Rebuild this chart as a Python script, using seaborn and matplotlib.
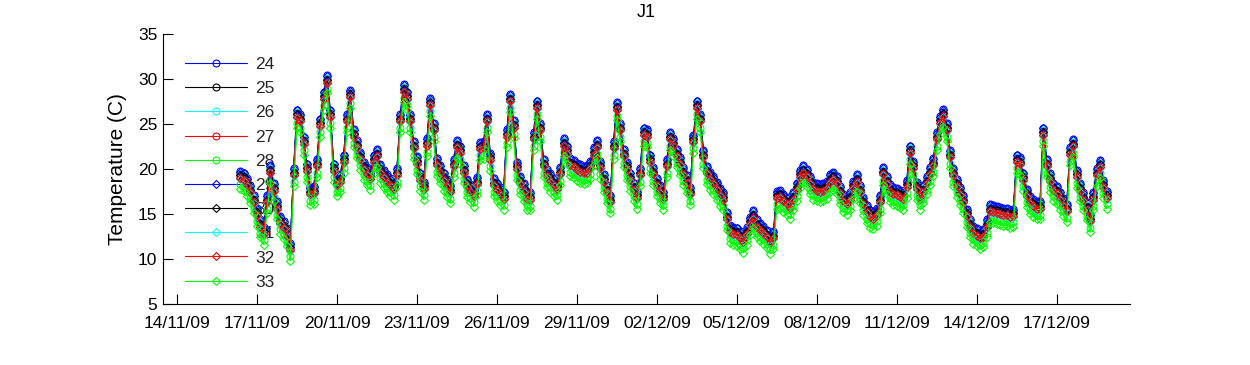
import numpy as np
import pandas as pd
import matplotlib
matplotlib.use("Agg")
import matplotlib.pyplot as plt
import matplotlib.dates as mdates
import seaborn as sns

# ---- data -----------------------------------------------------------------
start_time = "2009-11-16 09:00"
step = "3h"

# Mid-band temperature (C), one value every 3 hours
base_temp = [
    19.2, 19.0, 18.4, 17.6, 16.5,                      # 16/11
    15.1, 13.8, 13.0, 16.5, 19.8, 17.8, 15.8, 14.2,    # 17/11
    13.6, 12.8, 11.2, 19.5, 26.0, 25.5, 23.0, 20.0,    # 18/11
    17.4, 17.5, 20.5, 25.0, 28.0, 29.8, 26.0, 20.0,    # 19/11
    18.4, 18.8, 21.0, 25.5, 28.2, 23.8, 22.6, 21.3,    # 20/11
    20.2, 19.6, 19.1, 21.0, 21.6, 19.9, 19.3, 18.8,    # 21/11
    18.4, 18.0, 19.5, 25.5, 28.8, 28.0, 25.5, 22.5,    # 22/11
    20.8, 19.0, 18.0, 22.8, 27.3, 24.5, 20.6, 19.8,    # 23/11
    19.0, 18.3, 17.6, 20.5, 22.6, 22.0, 19.8, 18.3,    # 24/11
    17.7, 17.2, 18.5, 22.4, 22.5, 25.5, 21.2, 18.4,    # 25/11
    17.9, 17.4, 16.9, 23.8, 27.7, 24.8, 20.2, 18.6,    # 26/11
    17.8, 16.9, 16.8, 23.5, 27.0, 24.5, 20.5, 19.4,    # 27/11
    18.9, 18.4, 18.0, 19.6, 22.8, 22.0, 20.6, 20.4,    # 28/11
    20.1, 19.9, 19.7, 19.8, 20.3, 21.8, 22.6, 20.3,    # 29/11
    18.8, 17.6, 16.5, 22.5, 26.8, 24.5, 21.6, 20.2,    # 30/11
    19.0, 17.9, 17.0, 19.5, 24.0, 23.8, 21.0, 19.6,    # 01/12
    18.4, 17.6, 16.9, 20.5, 23.5, 22.8, 21.6, 20.7,    # 02/12
    19.6, 18.7, 17.4, 23.2, 27.0, 25.5, 21.5, 19.7,    # 03/12
    19.1, 18.6, 18.0, 17.3, 16.8, 14.6, 13.2, 13.0,    # 04/12
    12.9, 12.5, 12.1, 13.0, 14.1, 14.8, 13.8, 13.4,    # 05/12
    13.1, 12.6, 12.0, 12.5, 17.0, 17.1, 16.6, 16.3,    # 06/12
    15.9, 16.8, 17.9, 19.3, 19.8, 19.4, 18.6, 18.0,    # 07/12
    17.8, 17.7, 17.8, 18.1, 18.8, 19.1, 18.6, 17.5,    # 08/12
    16.6, 16.3, 16.8, 18.1, 18.8, 17.6, 16.3, 15.4,    # 09/12
    14.9, 14.7, 15.1, 16.5, 19.6, 18.6, 17.7, 17.4,    # 10/12
    17.3, 17.1, 16.9, 18.2, 22.0, 20.3, 18.0, 16.9,    # 11/12
    17.6, 18.6, 19.6, 20.6, 23.5, 25.3, 26.1, 24.5,    # 12/12
    21.5, 19.5, 18.3, 17.4, 16.5, 15.0, 13.8, 13.1,    # 13/12
    12.8, 12.5, 12.7, 13.8, 15.5, 15.4, 15.3, 15.2,    # 14/12
    15.1, 15.1, 14.9, 15.0, 21.0, 20.7, 19.0, 17.2,    # 15/12
    16.4, 16.1, 15.8, 15.8, 24.0, 20.5, 18.9, 17.9,    # 16/12
    17.5, 16.9, 16.2, 15.5, 21.8, 22.7, 19.3, 17.8,    # 17/12
    16.8, 15.7, 14.4, 16.8, 19.5, 20.4, 18.2, 17.0,    # 18/12
]

sensor_names = ["24", "25", "26", "27", "28", "29", "30", "31", "32", "33"]
# typical shift of each sensor from the mid band (C)
sensor_shift = [0.6, 0.2, 0.3, 0.0, -0.9, 0.5, 0.1, -0.3, -0.2, -1.4]

x_tick_dates = ["2009-11-14", "2009-11-17", "2009-11-20", "2009-11-23",
                "2009-11-26", "2009-11-29", "2009-12-02", "2009-12-05",
                "2009-12-08", "2009-12-11", "2009-12-14", "2009-12-17"]
y_ticks = [5, 10, 15, 20, 25, 30, 35]

# ---- styling --------------------------------------------------------------
sns.set_style("white")
plt.rcParams["font.family"] = ["Liberation Sans", "DejaVu Sans"]

colors = ["#0000ff", "#000000", "#00ffff", "#ff0000", "#00ff00"] * 2
markers = ["o"] * 5 + ["D"] * 5
msizes = [5.0] * 5 + [4.0] * 5

times = pd.date_range(start_time, periods=len(base_temp), freq=step)
base = np.array(base_temp)

rows = []
for name, sh in zip(sensor_names, sensor_shift):
    rows.append(pd.DataFrame({"time": times, "temp": base + sh, "sensor": name}))
df = pd.concat(rows, ignore_index=True)

fig = plt.figure(figsize=(12.5, 3.65), dpi=100)
ax = fig.add_axes([0.1304, 0.167, 0.7736, 0.740])

for i, name in enumerate(sensor_names):
    sub = df[df["sensor"] == name]
    sns.lineplot(data=sub, x="time", y="temp", ax=ax, color=colors[i],
                 marker=markers[i], markersize=msizes[i],
                 markerfacecolor="none", markeredgecolor=colors[i],
                 markeredgewidth=0.8, linewidth=0.8, label=name,
                 estimator=None, sort=False, legend=False)

ax.set_ylim(5, 35)
ax.set_yticks(y_ticks)
ax.set_xlim(pd.Timestamp("2009-11-13 11:24"), pd.Timestamp("2009-12-19 18:00"))
ax.set_xticks(pd.to_datetime(x_tick_dates))
ax.xaxis.set_major_formatter(mdates.DateFormatter("%d/%m/%y"))

ax.tick_params(axis="both", direction="in", length=7, width=0.8,
               labelsize=12.5, colors="black", bottom=True, left=True,
               top=False, right=False)
ax.tick_params(axis="x", pad=8.5)
ax.tick_params(axis="y", pad=4)
for s in ["top", "right"]:
    ax.spines[s].set_visible(False)
for s in ["left", "bottom"]:
    ax.spines[s].set_color("black")
    ax.spines[s].set_linewidth(0.8)

ax.set_xlabel("")
ax.set_ylabel("Temperature (C)", fontsize=15, color="black", labelpad=8)
ax.set_title("J1", fontsize=13, color="black", pad=12)

leg = ax.legend(loc="upper left", bbox_to_anchor=(0.0228, 0.915), frameon=False,
                fontsize=12.5, handlelength=3.57, handletextpad=0.46,
                labelspacing=0.52, borderaxespad=0, borderpad=0, numpoints=1)
leg.set_zorder(1)

fig.savefig("out.png", dpi=100)
